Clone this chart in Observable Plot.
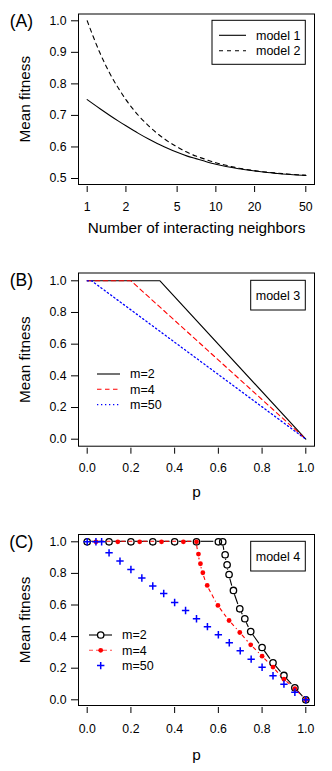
<!DOCTYPE html>
<html><head><meta charset="utf-8">
<script src="https://cdn.jsdelivr.net/npm/d3@7"></script>
<script src="https://cdn.jsdelivr.net/npm/@observablehq/plot@0.6"></script>
<style>
body{margin:0;background:#fff;}
#chart{width:332px;}
#chart svg{display:block;}
</style></head><body><div id="chart"></div>
<script>
// ---------- Panel A data ----------
const neighbors     = [1, 1.25, 1.5, 1.75, 2, 2.5, 3, 3.5, 4, 5, 6, 7, 8, 10, 12, 15, 20, 25, 30, 40, 50];
const fitnessModel1 = [0.750, 0.722, 0.700, 0.682, 0.667, 0.643, 0.625, 0.611, 0.600, 0.583, 0.571, 0.563, 0.556, 0.545, 0.538, 0.531, 0.524, 0.519, 0.516, 0.512, 0.510];
const fitnessModel2 = [1.000, 0.900, 0.833, 0.786, 0.750, 0.700, 0.667, 0.643, 0.625, 0.600, 0.583, 0.571, 0.563, 0.550, 0.542, 0.533, 0.525, 0.520, 0.517, 0.513, 0.510];
const xTicksA = [1, 2, 5, 10, 20, 50];
const yTicksA = [0.5, 0.6, 0.7, 0.8, 0.9, 1.0];
const legendLabelsA = ["model 1", "model 2"];

// ---------- Panel B data (model 3) ----------
const pB_m2  = [0, 0.333, 1];
const fitB_m2  = [1, 1, 0];
const pB_m4  = [0, 0.2, 1];
const fitB_m4  = [1, 1, 0];
const pB_m50 = [0, 0.02, 1];
const fitB_m50 = [1, 1, 0];
const ticks01 = [0, 0.2, 0.4, 0.6, 0.8, 1.0];
const legendLabelsBC = ["m=2", "m=4", "m=50"];

// ---------- Panel C data (model 4) ----------
const pC_m2   = [0, 0.1, 0.2, 0.3, 0.4, 0.5, 0.6, 0.62, 0.631, 0.64, 0.649, 0.669, 0.698, 0.721, 0.748, 0.8, 0.85, 0.9, 0.95, 1.0];
const fitC_m2 = [1, 1, 1, 1, 1, 1, 1, 1, 0.918, 0.854, 0.793, 0.692, 0.576, 0.513, 0.432, 0.331, 0.234, 0.154, 0.076, 0];
const pC_m4   = [0.04, 0.14, 0.24, 0.34, 0.44, 0.5, 0.509, 0.518, 0.529, 0.549, 0.598, 0.649, 0.698, 0.748, 0.8, 0.85, 0.9, 0.95, 1.0];
const fitC_m4 = [1, 1, 1, 1, 1, 1, 0.922, 0.861, 0.804, 0.724, 0.597, 0.502, 0.426, 0.348, 0.276, 0.207, 0.13, 0.071, 0];
const pC_m50   = [0, 0.04, 0.066, 0.1, 0.15, 0.2, 0.25, 0.3, 0.35, 0.4, 0.45, 0.5, 0.55, 0.6, 0.65, 0.7, 0.75, 0.8, 0.85, 0.9, 0.95, 1.0];
const fitC_m50 = [1, 1, 1, 0.93, 0.878, 0.825, 0.771, 0.72, 0.673, 0.616, 0.565, 0.513, 0.463, 0.412, 0.361, 0.31, 0.257, 0.206, 0.152, 0.099, 0.048, 0];

const panelTitles = ["(A)", "(B)", "(C)"];
const yTitle = "Mean fitness";
const xTitleA = "Number of interacting neighbors";
const xTitleBC = "p";
const boxLabels = ["model 3", "model 4"];

const FONT = "'Liberation Sans', Arial, Helvetica, sans-serif";
const W = 332;
const RED = "#ff0000", BLUE = "#0000ff";

const rows = (xs, ys) => xs.map((x, i) => ({x, y: ys[i]}));
const dataA1 = rows(neighbors, fitnessModel1);
const dataA2 = rows(neighbors, fitnessModel2);

// R "type = b" style line: segments with gaps around points, positioned with Plot's scales
function typeBLine(xs, ys, color, dash, gap) {
  return (index, scales) => {
    const g = d3.create("svg:g").attr("fill", "none").attr("stroke", color).attr("stroke-width", 1.1);
    if (dash) g.attr("stroke-dasharray", dash);
    for (let i = 0; i < xs.length - 1; i++) {
      const x1 = scales.x(xs[i]), y1 = scales.y(ys[i]), x2 = scales.x(xs[i + 1]), y2 = scales.y(ys[i + 1]);
      const dx = x2 - x1, dy = y2 - y1, L = Math.hypot(dx, dy);
      if (L <= 2 * gap + 0.5) continue;
      const ux = dx / L, uy = dy / L;
      g.append("line").attr("x1", x1 + ux * gap).attr("y1", y1 + uy * gap)
        .attr("x2", x2 - ux * gap).attr("y2", y2 - uy * gap);
    }
    return g.node();
  };
}

function legendGroup() {
  return d3.create("svg:g").attr("font-family", FONT).attr("font-size", 12.5).attr("text-anchor", "start").attr("fill", "#000");
}

function boxLegend(label) {
  return (index, scales) => {
    const right = scales.x(1), top = scales.y(1);
    const w = 54.6, h = 29.7;
    const g = legendGroup();
    g.append("rect").attr("x", right - w).attr("y", top).attr("width", w).attr("height", h)
      .attr("fill", "#fff").attr("stroke", "#000").attr("stroke-width", 1);
    g.append("text").attr("x", right - w / 2).attr("y", top + h / 2).attr("dy", "0.35em")
      .attr("text-anchor", "middle").text(label);
    return g.node();
  };
}

function panel(o) {
  return Plot.plot({
    width: W, height: o.height,
    marginTop: o.marginTop, marginBottom: o.marginBottom, marginLeft: 78, marginRight: 18,
    insetLeft: 8.7, insetRight: 8.7, insetTop: o.insetTop, insetBottom: o.insetBottom,
    x: {...o.x, label: null},
    y: {...o.y, label: null},
    style: {fontFamily: FONT, fontSize: "12px", color: "#000", background: "#fff", overflow: "visible"},
    marks: [
      ...o.marks,
      Plot.frame({stroke: "#000", strokeWidth: 1}),
      Plot.axisX({ticks: o.xTicks, tickFormat: o.xFormat, tickSize: 6, tickPadding: o.xTickPad, dy: 2, fontSize: 12.3, label: null}),
      Plot.axisY({ticks: o.yTicks, tickFormat: d3.format(".1f"), tickSize: 7, tickPadding: 5, fontSize: 12.3, label: null}),
      Plot.text([o.xTitle], {text: d => d, frameAnchor: "bottom", textAnchor: "middle", lineAnchor: "middle", dy: o.xTitleDy, fontSize: 15.3}),
      Plot.text([yTitle], {text: d => d, frameAnchor: "left", textAnchor: "middle", lineAnchor: "middle", dx: -53, rotate: -90, fontSize: 15.3}),
      Plot.text([o.tag], {text: d => d, frameAnchor: "top-left", textAnchor: "middle", lineAnchor: "middle", dx: -57.2, dy: o.tagDy, fontSize: 17.5}),
      ...(o.overlay || [])
    ]
  });
}

const chart = document.getElementById("chart");

// ---------- Panel A ----------
chart.append(panel({
  height: 255, marginTop: 13.5, marginBottom: 71, insetTop: 6.8, insetBottom: 6,
  x: {type: "log", domain: [1, 50]}, y: {domain: [0.5, 1.0]},
  xTicks: xTicksA, xFormat: d => String(d), yTicks: yTicksA, xTickPad: 10,
  xTitle: xTitleA, xTitleDy: 44, tag: panelTitles[0], tagDy: 7,
  marks: [
    Plot.line(dataA1, {x: "x", y: "y", stroke: "#000", strokeWidth: 1.1, curve: "monotone-x"}),
    Plot.line(dataA2, {x: "x", y: "y", stroke: "#000", strokeWidth: 1.1, strokeDasharray: "4,4", curve: "monotone-x"})
  ],
  overlay: [
    (index, scales) => {
      const right = scales.x(50), top = scales.y(1);
      const w = 93.3, h = 44, left = right - w;
      const g = legendGroup();
      g.append("rect").attr("x", left).attr("y", top).attr("width", w).attr("height", h)
        .attr("fill", "#fff").attr("stroke", "#000");
      legendLabelsA.forEach((lab, i) => {
        const yy = top + 15 + i * 15.5;
        const ln = g.append("line").attr("x1", left + 7).attr("x2", left + 34).attr("y1", yy).attr("y2", yy)
          .attr("stroke", "#000").attr("stroke-width", 1.1);
        if (i) ln.attr("stroke-dasharray", "4,4");
        g.append("text").attr("x", left + 44).attr("y", yy).attr("dy", "0.35em").text(lab);
      });
      return g.node();
    }
  ]
}));

// ---------- Panel B ----------
chart.append(panel({
  height: 255, marginTop: 17.5, marginBottom: 64.3, insetTop: 7.8, insetBottom: 7,
  x: {domain: [0, 1]}, y: {domain: [0, 1]},
  xTicks: ticks01, xFormat: d3.format(".1f"), yTicks: ticks01, xTickPad: 9,
  xTitle: xTitleBC, xTitleDy: 46, tag: panelTitles[1], tagDy: 7.5,
  marks: [
    Plot.line(rows(pB_m2, fitB_m2), {x: "x", y: "y", stroke: "#000", strokeWidth: 1.1}),
    Plot.line(rows(pB_m4, fitB_m4), {x: "x", y: "y", stroke: RED, strokeWidth: 1.1, strokeDasharray: "4.5,3.5"}),
    Plot.line(rows(pB_m50, fitB_m50), {x: "x", y: "y", stroke: BLUE, strokeWidth: 1.3, strokeDasharray: "1.3,2.7"})
  ],
  overlay: [
    boxLegend(boxLabels[0]),
    (index, scales, values, dim) => {
      const left = dim.marginLeft;
      const g = legendGroup();
      const styles = [["#000", null, 1.1], [RED, "4.5,3.5", 1.1], [BLUE, "1.3,2.7", 1.3]];
      legendLabelsBC.forEach((lab, i) => {
        const yy = 119 + i * 15.3;
        const ln = g.append("line").attr("x1", left + 19).attr("x2", left + 42).attr("y1", yy).attr("y2", yy)
          .attr("stroke", styles[i][0]).attr("stroke-width", styles[i][2]);
        if (styles[i][1]) ln.attr("stroke-dasharray", styles[i][1]);
        g.append("text").attr("x", left + 52).attr("y", yy).attr("dy", "0.35em").text(lab);
      });
      return g.node();
    }
  ]
}));

// ---------- Panel C ----------
chart.append(panel({
  height: 261, marginTop: 24, marginBottom: 66, insetTop: 7.3, insetBottom: 5.7,
  x: {domain: [0, 1]}, y: {domain: [0, 1]},
  xTicks: ticks01, xFormat: d3.format(".1f"), yTicks: ticks01, xTickPad: 11,
  xTitle: xTitleBC, xTitleDy: 50, tag: panelTitles[2], tagDy: 7.7,
  marks: [
    typeBLine(pC_m2, fitC_m2, "#000", null, 4.5),
    Plot.dot(rows(pC_m2, fitC_m2), {x: "x", y: "y", r: 3.2, stroke: "#000", fill: "none", strokeWidth: 1.3}),
    typeBLine(pC_m4, fitC_m4, RED, "4,3", 4),
    Plot.dot(rows(pC_m4, fitC_m4), {x: "x", y: "y", r: 2.4, fill: RED, stroke: "none"}),
    Plot.dot(rows(pC_m50, fitC_m50), {x: "x", y: "y", r: 2.5, symbol: "plus", stroke: BLUE, strokeWidth: 1.5})
  ],
  overlay: [
    boxLegend(boxLabels[1]),
    (index, scales, values, dim) => {
      const left = dim.marginLeft;
      const g = legendGroup();
      legendLabelsBC.forEach((lab, i) => {
        const yy = 125 + i * 15.3;
        const cx = left + 22.7;
        if (i === 0) {
          g.append("line").attr("x1", left + 11).attr("x2", left + 34).attr("y1", yy).attr("y2", yy).attr("stroke", "#000").attr("stroke-width", 1.1);
          g.append("circle").attr("cx", cx).attr("cy", yy).attr("r", 3.2).attr("fill", "#fff").attr("stroke", "#000").attr("stroke-width", 1.3);
        } else if (i === 1) {
          g.append("line").attr("x1", left + 11).attr("x2", left + 34).attr("y1", yy).attr("y2", yy).attr("stroke", RED).attr("stroke-opacity", 0.7).attr("stroke-width", 1.1).attr("stroke-dasharray", "4,3");
          g.append("circle").attr("cx", cx).attr("cy", yy).attr("r", 2.4).attr("fill", RED);
        } else {
          g.append("path").attr("d", `M${cx - 3.7},${yy}H${cx + 3.7}M${cx},${yy - 3.7}V${yy + 3.7}`).attr("stroke", BLUE).attr("stroke-width", 1.5);
        }
        g.append("text").attr("x", left + 44).attr("y", yy).attr("dy", "0.35em").text(lab);
      });
      return g.node();
    }
  ]
}));
</script></body></html>
